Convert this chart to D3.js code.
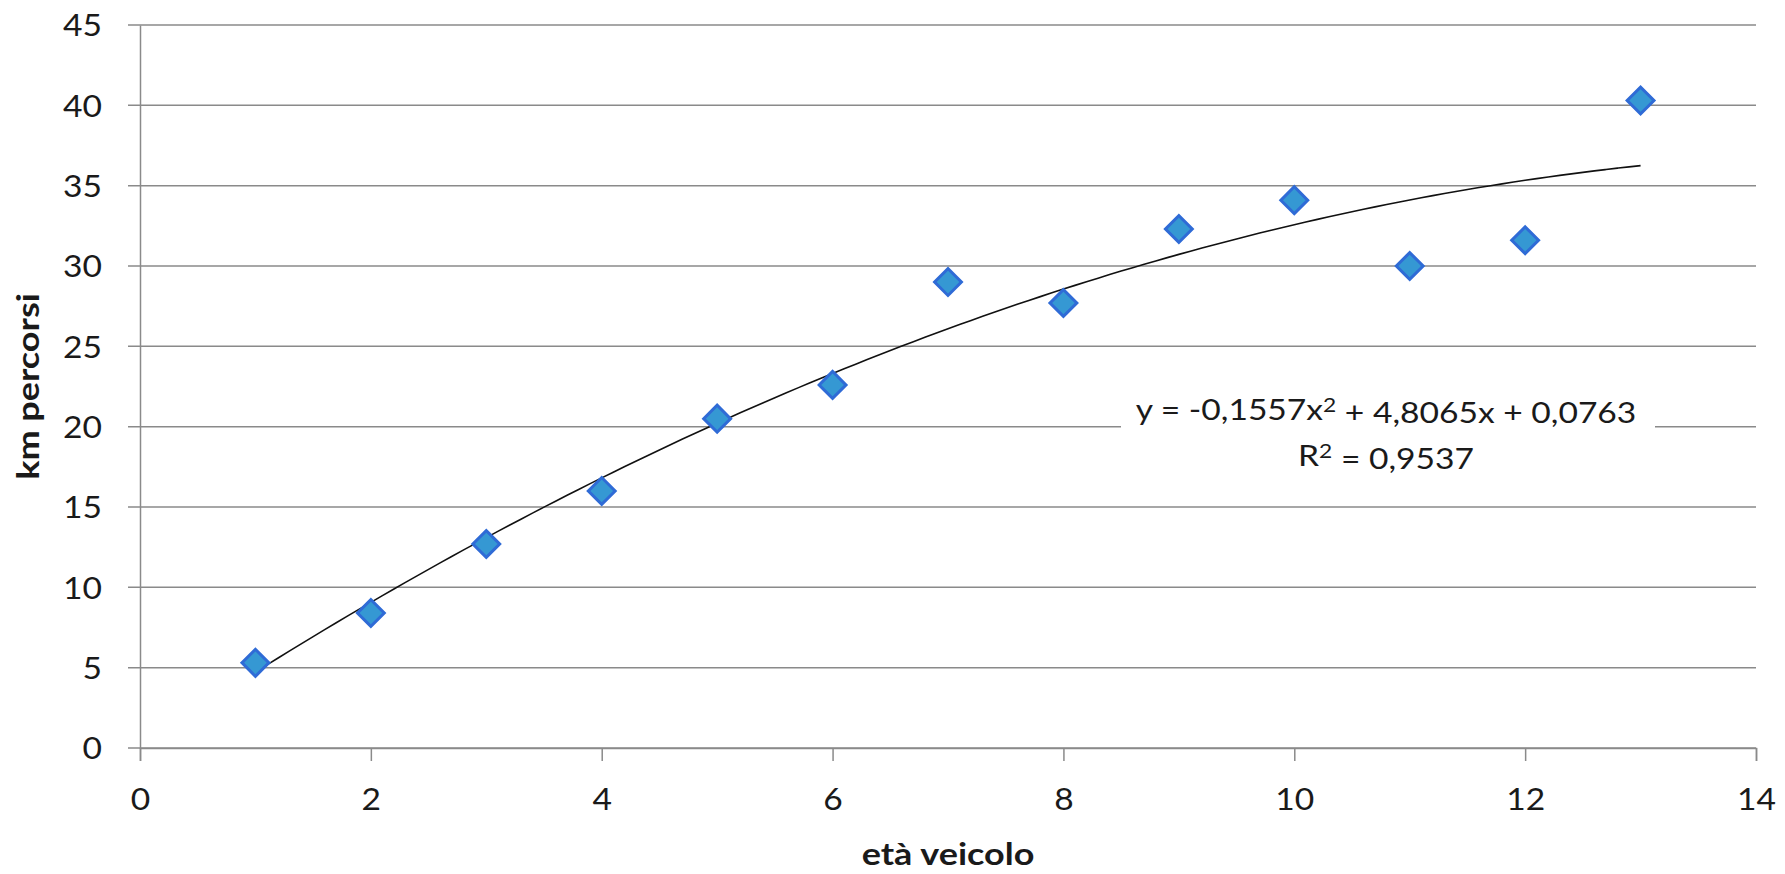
<!DOCTYPE html>
<html>
<head>
<meta charset="utf-8">
<script src="https://cdn.jsdelivr.net/npm/d3@7"></script>
<style>
  body { margin: 0; background: #fff; }
  text { font-family: Lato, "Open Sans", sans-serif; fill: #1a1a1a; }
</style>
</head>
<body>
<div id="chart"></div>
<script>
// Data
var ages = [1, 2, 3, 4, 5, 6, 7, 8, 9, 10, 11, 12, 13];
var kms = [5.3, 8.4, 12.7, 16.0, 20.5, 22.6, 29.0, 27.7, 32.3, 34.1, 30.0, 31.6, 40.3];
var xTicks = [0, 2, 4, 6, 8, 10, 12, 14];
var yTicks = [0, 5, 10, 15, 20, 25, 30, 35, 40, 45];
// trend coefficients shown on the chart (a x^2 + b x + c)
var trendCoef = [-0.1557, 4.8065, 0.0763];
var trendLabel = ["y = -0,1557x\u00b2 + 4,8065x + 0,0763", "R\u00b2 = 0,9537"];

var svgWidth = 1785;
var svgHeight = 874;

var margin = { top: 25, right: 29, bottom: 126, left: 140 };
var width = svgWidth - margin.left - margin.right;
var height = svgHeight - margin.top - margin.bottom;

// the original text is a bit wider than Lato, stretch it sideways
var tickStretch = 1.12;
var titleStretch = 1.2;
var eqStretch = 1.2;

var svg = d3.select("#chart")
    .append("svg")
    .attr("width", svgWidth)
    .attr("height", svgHeight);

var chartGroup = svg.append("g")
    .attr("transform", `translate(${margin.left}, ${margin.top})`);

var xScale = d3.scaleLinear().domain([0, 14]).range([0, width]);
var yScale = d3.scaleLinear().domain([0, 45]).range([height, 0]);

// horizontal gridlines
chartGroup.append("g")
    .selectAll("line")
    .data(yTicks)
    .enter()
    .append("line")
    .attr("x1", -12)
    .attr("x2", width)
    .attr("y1", d => yScale(d))
    .attr("y2", d => yScale(d))
    .attr("stroke", "#8a8a8a")
    .attr("stroke-width", 1.5);

// y axis
var leftAxis = d3.axisLeft(yScale).tickValues(yTicks).tickSize(0);
var yAxis = chartGroup.append("g").call(leftAxis);
yAxis.select(".domain").attr("stroke", "#8a8a8a").attr("stroke-width", 1.5);
yAxis.selectAll("text")
    .style("font-size", "30px")
    .attr("x", -38 / tickStretch)
    .attr("dy", "0.36em")
    .attr("transform", `scale(${tickStretch}, 1)`);

// x axis
var bottomAxis = d3.axisBottom(xScale).tickValues(xTicks).tickSize(13).tickSizeOuter(13);
var xAxis = chartGroup.append("g")
    .attr("transform", `translate(0, ${height})`)
    .call(bottomAxis);
xAxis.select(".domain").attr("stroke", "#8a8a8a").attr("stroke-width", 1.5);
xAxis.selectAll(".tick line").attr("stroke", "#8a8a8a").attr("stroke-width", 1.5);
xAxis.selectAll("text")
    .style("font-size", "30px")
    .attr("y", 62)
    .attr("dy", 0)
    .attr("transform", `scale(${tickStretch}, 1)`);

// axis titles
chartGroup.append("text")
    .attr("transform", `translate(${-101}, ${height / 2}) rotate(-90) scale(${titleStretch}, 1)`)
    .attr("text-anchor", "middle")
    .style("font-size", "30px")
    .style("font-weight", "bold")
    .text("km percorsi");

chartGroup.append("text")
    .attr("transform", `translate(${width / 2}, ${865 - margin.top}) scale(${titleStretch}, 1)`)
    .attr("text-anchor", "middle")
    .style("font-size", "30px")
    .style("font-weight", "bold")
    .text("età veicolo");

// trendline
var trendX = d3.range(ages[0], ages[ages.length - 1] + 0.001, 0.1);
var line = d3.line()
    .x(d => xScale(d))
    .y(d => yScale(trendCoef[0] * d * d + trendCoef[1] * d + trendCoef[2]))
    .curve(d3.curveMonotoneX);

chartGroup.append("path")
    .datum(trendX)
    .attr("d", line)
    .attr("fill", "none")
    .attr("stroke", "#111")
    .attr("stroke-width", 1.6);

// diamond markers
chartGroup.selectAll(".pt")
    .data(ages)
    .enter()
    .append("rect")
    .attr("class", "pt")
    .attr("x", -9.5)
    .attr("y", -9.5)
    .attr("width", 19)
    .attr("height", 19)
    .attr("transform", (d, i) => `translate(${xScale(d)}, ${yScale(kms[i])}) rotate(45)`)
    .attr("fill", "#3598d3")
    .attr("stroke", "#2f6bd6")
    .attr("stroke-width", 3);

// trend equation label with white box
var labelX = 1386 - margin.left;
var labelGroup = chartGroup.append("g");
labelGroup.append("rect")
    .attr("x", 1121 - margin.left)
    .attr("y", yScale(20) - 40)
    .attr("width", 534)
    .attr("height", 95)
    .attr("fill", "#fff");

labelGroup.selectAll("text")
    .data(trendLabel)
    .enter()
    .append("text")
    .attr("transform", (d, i) => `translate(${labelX}, ${yScale(20) - 7 + i * 46}) scale(${eqStretch}, 1)`)
    .attr("text-anchor", "middle")
    .style("font-size", "28px")
    .each(function(d) {
        // split on the ² sign so it can be drawn as a real superscript
        var parts = d.split("\u00b2");
        var t = d3.select(this);
        parts.forEach(function(p, j) {
            t.append("tspan").attr("dy", j > 0 ? "0.42em" : null).text(p);
            if (j < parts.length - 1) {
                t.append("tspan")
                    .attr("dy", "-0.42em")
                    .style("font-size", "19px")
                    .text("2");
            }
        });
    });
</script>
</body>
</html>
